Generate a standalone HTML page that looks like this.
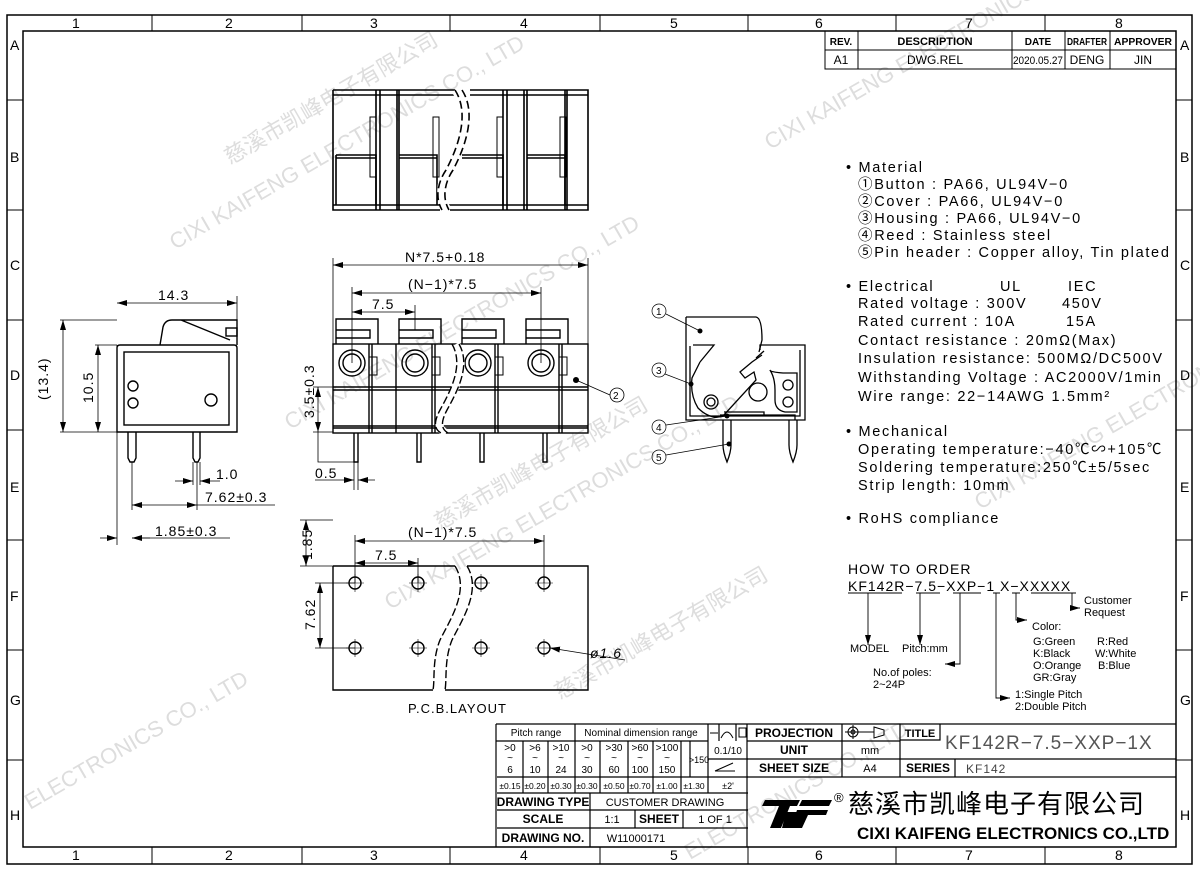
<!DOCTYPE html>
<html><head><meta charset="utf-8"><style>
html,body{margin:0;padding:0;background:#fff}
svg{display:block}
text{font-family:"Liberation Sans","Noto Sans CJK SC",sans-serif;fill:#000}
.t{font-size:14px;letter-spacing:1px}
.s{font-size:11px}
.b{font-weight:bold;font-size:12px}
</style></head><body>
<svg width="1200" height="876" viewBox="0 0 1200 876" xmlns="http://www.w3.org/2000/svg">
<defs>
<marker id="a" viewBox="0 0 10 6" refX="10" refY="3" markerWidth="10" markerHeight="6" orient="auto-start-reverse" markerUnits="userSpaceOnUse"><path d="M0,0L10,3L0,6z" fill="#000"/></marker>
</defs>
<!-- watermarks -->
<g>
<text x="175" y="250" transform="rotate(-30 175 250)" style="fill:#ddd;font-size:22px">CIXI KAIFENG ELECTRONICS CO., LTD</text>
<text x="230" y="165" transform="rotate(-30 230 165)" style="fill:#ddd;font-size:22px">慈溪市凯峰电子有限公司</text>
<text x="290" y="430" transform="rotate(-30 290 430)" style="fill:#ddd;font-size:22px">CIXI KAIFENG ELECTRONICS CO., LTD</text>
<text x="440" y="530" transform="rotate(-30 440 530)" style="fill:#ddd;font-size:22px">慈溪市凯峰电子有限公司</text>
<text x="390" y="610" transform="rotate(-30 390 610)" style="fill:#ddd;font-size:22px">CIXI KAIFENG ELECTRONICS CO., LTD</text>
<text x="560" y="700" transform="rotate(-30 560 700)" style="fill:#ddd;font-size:22px">慈溪市凯峰电子有限公司</text>
<text x="30" y="810" transform="rotate(-30 30 810)" style="fill:#ddd;font-size:22px">ELECTRONICS CO., LTD</text>
<text x="770" y="150" transform="rotate(-30 770 150)" style="fill:#ddd;font-size:22px">CIXI KAIFENG ELECTRONICS</text>
<text x="980" y="510" transform="rotate(-30 980 510)" style="fill:#ddd;font-size:22px">CIXI KAIFENG ELECTRONICS</text>
<text x="690" y="860" transform="rotate(-30 690 860)" style="fill:#ddd;font-size:22px">ELECTRONICS CO., LTD</text>
</g>
<g fill="none" stroke="#000">
<rect x="7" y="15" width="1185" height="849" stroke-width="1.5"/>
<rect x="23" y="31" width="1153" height="816" stroke-width="1.5"/>
<path d="M152,15V31M302,15V31M450,15V31M600,15V31M748,15V31M896,15V31M1045,15V31M152,847V864M302,847V864M450,847V864M600,847V864M748,847V864M896,847V864M1045,847V864M7,100H23M7,210H23M7,320H23M7,430H23M7,540H23M7,650H23M7,760H23M1176,100H1192M1176,210H1192M1176,320H1192M1176,430H1192M1176,540H1192M1176,650H1192M1176,760H1192"/>
<rect x="825" y="31" width="351" height="38"/>
<path d="M825,50H1176M858,31V69M1012,31V69M1065,31V69M1110,31V69"/>
</g>
<g font-size="14">
<text x="72" y="28">1</text><text x="225" y="28">2</text><text x="370" y="28">3</text><text x="520" y="28">4</text><text x="670" y="28">5</text><text x="815" y="28">6</text><text x="965" y="28">7</text><text x="1115" y="28">8</text>
<text x="72" y="860">1</text><text x="225" y="860">2</text><text x="370" y="860">3</text><text x="520" y="860">4</text><text x="670" y="860">5</text><text x="815" y="860">6</text><text x="965" y="860">7</text><text x="1115" y="860">8</text>
<text x="10" y="50">A</text><text x="10" y="162">B</text><text x="10" y="270">C</text><text x="10" y="380">D</text><text x="10" y="492">E</text><text x="10" y="601">F</text><text x="10" y="705">G</text><text x="10" y="820">H</text>
<text x="1180" y="50">A</text><text x="1180" y="162">B</text><text x="1180" y="270">C</text><text x="1180" y="380">D</text><text x="1180" y="492">E</text><text x="1180" y="601">F</text><text x="1180" y="705">G</text><text x="1180" y="820">H</text>
</g>
<g text-anchor="middle">
<text x="841" y="45" style="font-size:10px;font-weight:bold">REV.</text><text x="935" y="45" style="font-size:11px;font-weight:bold">DESCRIPTION</text><text x="1038" y="45" style="font-size:10px;font-weight:bold">DATE</text><text x="1087" y="45" style="font-size:10px;font-weight:bold" textLength="40" lengthAdjust="spacingAndGlyphs">DRAFTER</text><text x="1143" y="45" style="font-size:10px;font-weight:bold" textLength="58" lengthAdjust="spacingAndGlyphs">APPROVER</text>
<text x="841" y="64" style="font-size:12px">A1</text><text x="935" y="64" style="font-size:12px">DWG.REL</text><text x="1038" y="64" style="font-size:11px" textLength="50" lengthAdjust="spacingAndGlyphs">2020.05.27</text><text x="1087" y="64" style="font-size:12px">DENG</text><text x="1143" y="64" style="font-size:12px">JIN</text>
</g>

<!-- TOP VIEW -->
<g fill="none" stroke="#000" stroke-width="1.6">
<path d="M333,90H455M333,90V210H440M470,90H588V210H450"/>
<path d="M333,95H455M470,95H588M333,205H588"/>
<path d="M376,90V210M380,90V210M397,90V210M399,90V210M503,90V210M507,90V210M524,90V210M527,90V210M565,90V210M567,90V210"/>
<path d="M336,155H376V205M336,158H376M336,155V205M399,155H437V205M399,158H437M462,155H503V205M462,158H503M527,155H565V205M527,158H565"/>
<path d="M370,117h6v60h-6zM433,117h6v60h-6zM497,117h6v60h-6zM560,117h6v60h-6z" stroke-width="1"/>
<path d="M455,90C470,110 465,140 448,170C438,185 440,200 448,210" stroke="#fff" stroke-width="8"/>
<path d="M455,90C468,110 462,140 446,170C436,185 436,200 442,210M462,90C475,110 469,140 453,170C443,185 443,200 449,210" stroke-dasharray="8,4"/>
</g>

<!-- SIDE VIEW -->
<g fill="none" stroke="#000" stroke-width="1.4">
<path d="M120,345H234Q237,345 237,348V432H117V348Q117,345 120,345Z"/>
<rect x="124" y="352" width="105" height="73"/>
<path d="M160,345L163,327Q165,320 172,320H237V345M181,320L230,340"/>
<rect x="226" y="328" width="11" height="8"/>
<circle cx="133" cy="386" r="5"/><circle cx="133" cy="403" r="5"/><circle cx="211" cy="400" r="6"/>
<path d="M128,432V458L130,462H134L136,458V432M193,432V458L195,462H198L200,458V432"/>
</g>
<g fill="none" stroke="#000" stroke-width="0.8">
<path d="M117,345V545M237,340V296M117,320H60M117,432H60M117,345H95M132,462V510M197,462V510M193,462V485M200,462V485"/>
<path d="M117,303H237" marker-start="url(#a)" marker-end="url(#a)"/>
<path d="M63,320V432" marker-start="url(#a)" marker-end="url(#a)"/>
<path d="M98,345V432" marker-start="url(#a)" marker-end="url(#a)"/>
<path d="M175,481H193" marker-end="url(#a)"/><path d="M220,481H200" marker-end="url(#a)"/>
<path d="M132,505H197" marker-start="url(#a)" marker-end="url(#a)"/><path d="M197,505H275"/>
<path d="M100,538H117" marker-end="url(#a)"/><path d="M150,538H132" marker-end="url(#a)"/><path d="M132,538H230"/>
</g>
<g class="t">
<text x="158" y="300">14.3</text>
<text x="48" y="400" transform="rotate(-90 48 400)">(13.4)</text>
<text x="93" y="403" transform="rotate(-90 93 403)">10.5</text>
<text x="216" y="479">1.0</text>
<text x="205" y="502">7.62±0.3</text>
<text x="155" y="536">1.85±0.3</text>
</g>

<!-- FRONT VIEW -->
<g fill="none" stroke="#000" stroke-width="1.4">
<rect x="333" y="344" width="255" height="89"/>
<path d="M333,387H588M333,390H588M333,426H588M333,428H588"/>
<path d="M336,344V319H378V344M336,330H370V338H336M399,344V319H441V344M399,330H433V338H399M462,344V319H504V344M462,330H496V338H462M526,344V319H568V344M526,330H560V338H526"/>
<path d="M369,344V433M372,344V433M396,344V433M432,344V433M435,344V433M495,344V433M498,344V433M559,344V433M562,344V433"/>
<path d="M369,357h8v18h-8zM432,357h8v18h-8zM495,357h8v18h-8zM559,357h8v18h-8z" stroke-width="1"/>
<circle cx="352" cy="363" r="13"/><circle cx="352" cy="363" r="9"/>
<circle cx="415" cy="363" r="13"/><circle cx="415" cy="363" r="9"/>
<circle cx="478" cy="363" r="13"/><circle cx="478" cy="363" r="9"/>
<circle cx="541" cy="363" r="13"/><circle cx="541" cy="363" r="9"/>
<path d="M354,433V462H358V433M417,433V462H421V433M480,433V462H484V433M543,433V462H547V433"/>
<path d="M456,344C468,365 455,390 444,410C436,425 440,430 446,433" stroke="#fff" stroke-width="8"/>
<path d="M452,344C464,365 451,390 440,410C432,425 436,430 441,433M459,344C471,365 458,390 447,410C439,425 443,430 448,433" stroke-dasharray="8,3"/>
</g>
<circle cx="576" cy="380" r="3" fill="#000"/>
<g fill="none" stroke="#000" stroke-width="0.8">
<path d="M333,344V258M588,344V258M352,363V287M541,363V287M415,330V305"/>
<path d="M333,265H588" marker-start="url(#a)" marker-end="url(#a)"/>
<path d="M352,293H541" marker-start="url(#a)" marker-end="url(#a)"/>
<path d="M352,312H415" marker-start="url(#a)" marker-end="url(#a)"/>
<path d="M318,387V432" marker-start="url(#a)" marker-end="url(#a)"/>
<path d="M333,387H313M333,432H313M318,432V462H354M354,462V490M358,462V490"/>
<path d="M335,480H354" marker-end="url(#a)"/><path d="M375,480H358" marker-end="url(#a)"/><path d="M315,480H335"/>
<path d="M576,380L610,395"/>
</g>
<circle cx="617" cy="395" r="7" fill="none" stroke="#000" stroke-width="0.8"/>
<text x="613" y="399" style="font-size:10px">2</text>
<g class="t">
<text x="405" y="262">N*7.5+0.18</text>
<text x="408" y="289">(N−1)*7.5</text>
<text x="372" y="309">7.5</text>
<text x="314" y="418" transform="rotate(-90 314 418)">3.5±0.3</text>
<text x="315" y="478">0.5</text>
</g>

<!-- PCB -->
<g fill="none" stroke="#000" stroke-width="1.4">
<path d="M333,566H455M467,566H588V690H445M433,690H333V566"/>
<path d="M455,566C470,590 450,620 440,640C432,660 435,680 433,690" stroke-dasharray="8,3"/>
<path d="M467,566C482,590 462,620 452,640C444,660 447,680 445,690" stroke-dasharray="8,3"/>
<circle cx="355" cy="583" r="6"/><circle cx="418" cy="583" r="6"/><circle cx="481" cy="583" r="6"/><circle cx="544" cy="583" r="6"/>
<circle cx="355" cy="648" r="6"/><circle cx="418" cy="648" r="6"/><circle cx="481" cy="648" r="6"/><circle cx="544" cy="648" r="6"/>
</g>
<g fill="none" stroke="#000" stroke-width="0.6">
<path d="M346,583h18M355,574v18M409,583h18M418,574v18M472,583h18M481,574v18M535,583h18M544,574v18M346,648h18M355,639v18M409,648h18M418,639v18M472,648h18M481,639v18M535,648h18M544,639v18"/>
</g>
<g fill="none" stroke="#000" stroke-width="0.8">
<path d="M355,583V535M544,583V535M418,583V558M333,566H300M355,583H315M355,648H315M333,520H300"/>
<path d="M355,541H544" marker-start="url(#a)" marker-end="url(#a)"/>
<path d="M355,563H418" marker-start="url(#a)" marker-end="url(#a)"/>
<path d="M306,520V566" marker-start="url(#a)" marker-end="url(#a)"/>
<path d="M320,583V648" marker-start="url(#a)" marker-end="url(#a)"/>
<path d="M625,660L550,648" marker-end="url(#a)"/>
</g>
<g class="t">
<text x="408" y="537">(N−1)*7.5</text>
<text x="375" y="560">7.5</text>
<text x="312" y="560" transform="rotate(-90 312 560)">1.85</text>
<text x="315" y="630" transform="rotate(-90 315 630)">7.62</text>
<text x="590" y="658" font-style="italic">ø1.6</text>
<text x="408" y="713" style="font-size:13px">P.C.B.LAYOUT</text>
</g>

<!-- CROSS SECTION -->
<g fill="none" stroke="#000" stroke-width="1.3">
<path d="M686,343V420H805V345H760V350"/>
<path d="M690,346V416H800V350"/>
<path d="M693,345H714L700,362"/>
<path d="M686,317H756Q762,318 762,340L759,352"/>
<path d="M686,317V343"/>
<path d="M700,362L692,378Q690,395 698,408Q710,420 723,416L756,380L754,372L745,378L740,372L752,362L762,355"/>
<path d="M770,370Q775,378 775,390V400Q775,410 785,412H797V373H783Q770,372 770,370"/>
<circle cx="788" cy="385" r="5"/><circle cx="788" cy="402" r="5"/>
<circle cx="711" cy="402" r="7"/><circle cx="711" cy="402" r="4"/>
<circle cx="758" cy="392" r="9"/>
<path d="M720,415H795V420M724,412h40v3"/>
<path d="M723,420V445Q723,452 727,462Q731,452 731,445V420M789,420V445Q789,452 793,462Q797,452 797,445V420"/>
<path d="M764,351L756,358"/>
</g>
<circle cx="700" cy="331" r="2.5" fill="#000"/><circle cx="691" cy="384" r="2.5" fill="#000"/><circle cx="727" cy="416" r="2.5" fill="#000"/><circle cx="729" cy="444" r="2.5" fill="#000"/>
<g fill="none" stroke="#000" stroke-width="0.7">
<circle cx="659" cy="311" r="7"/><circle cx="659" cy="370" r="7"/><circle cx="659" cy="427" r="7"/><circle cx="659" cy="457" r="7"/>
<path d="M666,314L700,331M665,374L691,384M666,425L727,416M666,455L729,444"/>
</g>
<text x="656" y="315" style="font-size:10px">1</text><text x="656" y="374" style="font-size:10px">3</text><text x="656" y="431" style="font-size:10px">4</text><text x="656" y="461" style="font-size:10px">5</text>

<!-- SPEC TEXT -->
<g style="font-size:14.5px;letter-spacing:1.7px">
<text x="846" y="172">• Material</text>
<text x="858" y="189">①Button : PA66, UL94V−0</text>
<text x="858" y="206">②Cover : PA66, UL94V−0</text>
<text x="858" y="223">③Housing : PA66, UL94V−0</text>
<text x="858" y="240">④Reed : Stainless steel</text>
<text x="858" y="257">⑤Pin header : Copper alloy, Tin plated</text>
<text x="846" y="291">• Electrical</text><text x="1000" y="291">UL</text><text x="1068" y="291">IEC</text>
<text x="858" y="308">Rated voltage : 300V</text><text x="1062" y="308">450V</text>
<text x="858" y="326">Rated current : 10A</text><text x="1066" y="326">15A</text>
<text x="858" y="345">Contact resistance : 20mΩ(Max)</text>
<text x="858" y="363">Insulation resistance: 500MΩ/DC500V</text>
<text x="858" y="382">Withstanding Voltage : AC2000V/1min</text>
<text x="858" y="401">Wire range: 22−14AWG  1.5mm²</text>
<text x="846" y="436">• Mechanical</text>
<text x="858" y="454">Operating temperature:−40℃∽+105℃</text>
<text x="858" y="472">Soldering temperature:250℃±5/5sec</text>
<text x="858" y="490">Strip length: 10mm</text>
<text x="846" y="523">• RoHS compliance</text>
</g>

<!-- HOW TO ORDER -->
<g class="t" style="font-size:14px">
<text x="848" y="574">HOW TO ORDER</text>
<text x="848" y="591">KF142R−7.5−XXP−1 X−XXXXX</text>
</g>
<g fill="none" stroke="#000" stroke-width="0.9">
<path d="M848,593H902M916,593H940M953,593H981M993,593H1000M1012,593H1020M1031,593H1076"/>
<path d="M868,593V645" marker-end="url(#a)"/>
<path d="M920,593V645" marker-end="url(#a)"/>
<path d="M960,593V664H945" marker-end="url(#a)"/>
<path d="M996,593V698H1010" marker-end="url(#a)"/>
<path d="M1016,593V620H1027" marker-end="url(#a)"/>
<path d="M1072,593V608H1080" marker-end="url(#a)"/>
</g>
<g>
<text x="850" y="652" style="font-size:11px">MODEL</text><text x="902" y="652" style="font-size:11px">Pitch:mm</text>
<text x="873" y="676" style="font-size:11px">No.of poles:</text><text x="873" y="688" style="font-size:11px">2~24P</text>
<text x="1084" y="604" style="font-size:11px">Customer</text><text x="1084" y="616" style="font-size:11px">Request</text>
<text x="1032" y="630" style="font-size:11px">Color:</text>
<text x="1033" y="645" style="font-size:11px">G:Green</text><text x="1097" y="645" style="font-size:11px">R:Red</text>
<text x="1033" y="657" style="font-size:11px">K:Black</text><text x="1095" y="657" style="font-size:11px">W:White</text>
<text x="1033" y="669" style="font-size:11px">O:Orange</text><text x="1098" y="669" style="font-size:11px">B:Blue</text>
<text x="1033" y="681" style="font-size:11px">GR:Gray</text>
<text x="1015" y="698" style="font-size:11px">1:Single Pitch</text><text x="1015" y="710" style="font-size:11px">2:Double Pitch</text>
</g>

<!-- TITLE BLOCK -->
<g fill="none" stroke="#000" stroke-width="1.2">
<path d="M496,724H1176M496,724V847M747,724V847"/>
<path d="M496,741H708M497,777H748M497,793H748M497,810H748M497,828H748"/>
<path d="M575,724V793M708,724V793M523,741V793M548,741V793M600,741V793M628,741V793M653,741V793M681,741V793M719,724V741M736,724V741M708,759H748M690,741V777"/>
<path d="M590,793V847M635,810V828M683,810V828"/>
<path d="M747,741H900M747,759H1176M747,777H1176M842,724V777M900,724V777M900,740H940V724M955,759V777"/>
</g>
<g fill="none" stroke="#000" stroke-width="1"><path d="M710,733h8"/><path d="M721,738q6,-12 12,0"/><rect x="739" y="728" width="7" height="9"/><path d="M715,771L733,763M715,771H735"/>
<circle cx="853" cy="732" r="5"/><circle cx="853" cy="732" r="2"/><path d="M845,732H874M853,725V739M874,727L884,730V735L874,738Z"/></g>
<g text-anchor="middle">
<text x="536" y="736" style="font-size:10px">Pitch range</text><text x="641" y="736" style="font-size:10px">Nominal dimension range</text>
<text x="510" y="751" style="font-size:10px">&gt;0</text><text x="535" y="751" style="font-size:10px">&gt;6</text><text x="561" y="751" style="font-size:10px">&gt;10</text><text x="587" y="751" style="font-size:10px">&gt;0</text><text x="614" y="751" style="font-size:10px">&gt;30</text><text x="640" y="751" style="font-size:10px">&gt;60</text><text x="667" y="751" style="font-size:10px">&gt;100</text>
<text x="510" y="761" style="font-size:10px">~</text><text x="535" y="761" style="font-size:10px">~</text><text x="561" y="761" style="font-size:10px">~</text><text x="587" y="761" style="font-size:10px">~</text><text x="614" y="761" style="font-size:10px">~</text><text x="640" y="761" style="font-size:10px">~</text><text x="667" y="761" style="font-size:10px">~</text>
<text x="510" y="773" style="font-size:10px">6</text><text x="535" y="773" style="font-size:10px">10</text><text x="561" y="773" style="font-size:10px">24</text><text x="587" y="773" style="font-size:10px">30</text><text x="614" y="773" style="font-size:10px">60</text><text x="640" y="773" style="font-size:10px">100</text><text x="667" y="773" style="font-size:10px">150</text>
<text x="699" y="763" style="font-size:9px">&gt;150</text><text x="728" y="754" style="font-size:10px">0.1/10</text>
<text x="510" y="789" style="font-size:8.5px">±0.15</text><text x="535" y="789" style="font-size:8.5px">±0.20</text><text x="561" y="789" style="font-size:8.5px">±0.30</text><text x="587" y="789" style="font-size:8.5px">±0.30</text><text x="614" y="789" style="font-size:8.5px">±0.50</text><text x="640" y="789" style="font-size:8.5px">±0.70</text><text x="667" y="789" style="font-size:8.5px">±1.00</text><text x="694" y="789" style="font-size:8.5px">±1.30</text><text x="728" y="789" style="font-size:9px">±2'</text>
<text x="543" y="806" style="font-size:12px;font-weight:bold">DRAWING TYPE</text><text x="665" y="806" style="font-size:11px">CUSTOMER DRAWING</text>
<text x="543" y="823" style="font-size:12px;font-weight:bold">SCALE</text><text x="612" y="823" style="font-size:11px">1:1</text><text x="659" y="823" style="font-size:12px;font-weight:bold">SHEET</text><text x="715" y="823" style="font-size:11px">1 OF 1</text>
<text x="543" y="842" style="font-size:12px;font-weight:bold">DRAWING NO.</text><text x="636" y="842" style="font-size:11px">W11000171</text>
<text x="794" y="737" style="font-size:12px;font-weight:bold">PROJECTION</text>
<text x="794" y="754" style="font-size:12px;font-weight:bold">UNIT</text><text x="870" y="754" style="font-size:11px">mm</text>
<text x="794" y="772" style="font-size:12px;font-weight:bold">SHEET SIZE</text><text x="870" y="772" style="font-size:11px">A4</text>
<text x="920" y="737" style="font-size:11px;font-weight:bold">TITLE</text>
<text x="928" y="772" style="font-size:12px;font-weight:bold">SERIES</text>
</g>
<text x="945" y="749" style="font-size:19px;fill:#555;letter-spacing:1px">KF142R−7.5−XXP−1X</text>
<text x="966" y="773" style="font-size:12px;fill:#444;letter-spacing:1px">KF142</text>
<g fill="#000">
<path d="M765,800H800L797,806H790L781,828H770L779,806H762Z"/>
<path d="M786,812H798Q806,812 803,819L799,828H782Z" fill="#000"/>
<path d="M802,800H832L829,806H799ZM797,810H828L826,815H808L802,828H791Z"/>
</g>
<text x="834" y="802" style="font-size:13px">®</text>
<text x="848" y="813" style="font-size:26px;letter-spacing:1px;font-family:'Noto Sans CJK SC',sans-serif">慈溪市凯峰电子有限公司</text>
<text x="857" y="839" style="font-size:17px;font-weight:bold">CIXI KAIFENG ELECTRONICS CO.,LTD</text>
</svg>
</body></html>
